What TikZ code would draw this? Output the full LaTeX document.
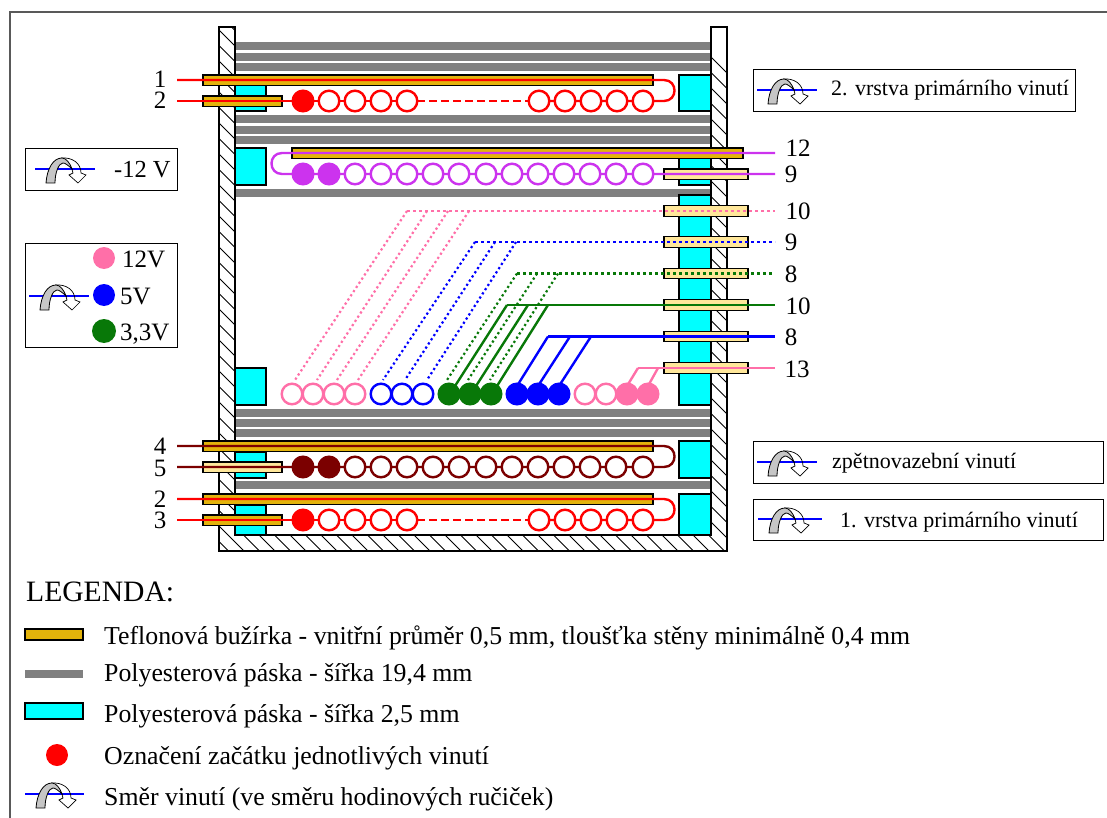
\documentclass[tikz,border=0pt]{standalone}
\usepackage{fontspec}
\setmainfont{Liberation Serif}
\definecolor{zlata}{HTML}{E3B30B}
\definecolor{svetla}{HTML}{FFE79A}
\definecolor{ruzova}{HTML}{FF6FA8}
\definecolor{fialova}{HTML}{CC33EE}
\definecolor{hneda}{HTML}{7B0000}
\definecolor{zelena}{HTML}{087808}
\definecolor{tyrkys}{HTML}{00FFFF}
\tikzset{
	paska/.style={line width=7.5pt,color=gray},
	blok/.style={draw=black,line width=1.1pt,fill=tyrkys},
	buzirka/.style={draw=black,line width=1.1pt,fill=zlata},
	svbuzirka/.style={draw=black,line width=1.1pt,fill=svetla},
	drat/.style={line width=2.4pt},
	prerus/.style={line width=2.6pt,dash pattern=on 8pt off 4pt},
	tecky/.style={line width=2.6pt,dash pattern=on 3pt off 3pt},
	sikmo/.style={line width=2.2pt,dash pattern=on 2.2pt off 2.8pt},
	ramecek/.style={draw=black,line width=.9pt},
	popis/.style={font=\fontsize{25.8}{28}\selectfont,anchor=base west,inner sep=0pt},
	vpopis/.style={font=\fontsize{22}{24}\selectfont,anchor=base west,inner sep=0pt},
	cislo/.style={font=\fontsize{25}{26}\selectfont,anchor=base,inner sep=0pt}
}
\newcommand{\smer}[3]{
	\begin{scope}[shift={(#1,#2)}]
		\draw[blue,line width=2pt] (0,0)--(#3,0);
		\draw[black,line width=.7pt] (26,-11) .. controls (37,-12) and (46,-6) .. (46,4)--(51,6)--(43,14)--(34,6)--(38,4) .. controls (37,-3) and (33,-7) .. (28,-8);
		\draw[black,line width=.8pt,fill=gray!45] (11,14) .. controls (12,0) and (18,-11) .. (27,-11) .. controls (31,-11) and (35,-6) .. (37,0) .. controls (33,-4) and (30,-6) .. (28,-6) .. controls (24,-6) and (20,3) .. (20,14)--cycle;
	\end{scope}
}
\begin{document}
\begin{tikzpicture}[x=1pt,y=-1pt,line join=miter,line cap=butt]
	\useasboundingbox (0,0) rectangle (1107,818);
	\draw[gray!70!black,line width=1.2pt] (10,818)--(10,12)--(1107,12);
	\foreach \y in {46,57,67,119,130,140,193,413,423,433,485}
	\draw[paska] (235,\y)--(711,\y);
	\begin{scope}
		\clip (219,27)--(235,27)--(235,535)--(711,535)--(711,27)--(727,27)--(727,551)--(219,551)--cycle;
		\foreach \c in {0,...,70}
		\draw[line width=.8pt] (0,-189-465+\c*15.5)--(900,-189-465+\c*15.5+900);
	\end{scope}
	\draw[line width=1.3pt] (219,27)--(235,27)--(235,535)--(711,535)--(711,27)--(727,27)--(727,551)--(219,551)--cycle;
	\draw[blok] (235,84) rectangle (266,111);
	\draw[blok] (235,148) rectangle (266,185);
	\draw[blok] (679,75) rectangle (711,111);
	\draw[blok] (679,148) rectangle (711,185);
	\draw[blok] (679,195) rectangle (711,405);
	\draw[blok] (235,368) rectangle (266,405);
	\draw[blok] (235,452) rectangle (266,478);
	\draw[blok] (235,505) rectangle (266,535);
	\draw[blok] (679,441) rectangle (711,478);
	\draw[blok] (679,494) rectangle (711,535);
	\draw[buzirka] (203,75) rectangle (653,85.5);
	\draw[buzirka] (203,96) rectangle (282,106.5);
	\draw[buzirka] (292,148) rectangle (743,158.5);
	\draw[svbuzirka] (664,169) rectangle (748,179.5);
	\foreach \y in {211,242,273.5,305,336.5,368}
	\draw[svbuzirka] (664,\y-5.25) rectangle (748,\y+5.25);
	\draw[buzirka] (203,441) rectangle (653,451.5);
	\draw[svbuzirka] (203,462) rectangle (282,472.5);
	\draw[buzirka] (203,494) rectangle (653,504.5);
	\draw[buzirka] (203,515) rectangle (282,525.5);
	\foreach \y in {80,499}{
		\draw[red,drat] (177,\y)--(664,\y) .. controls (678,\y) and (678,\y+21) .. (664,\y+21)--(528,\y+21);
		\draw[red,drat] (177,\y+21)--(407,\y+21);
		\draw[red,prerus] (417,\y+21)--(530,\y+21);
		\draw[red,fill=red,drat] (303,\y+21) circle (10.3);
		\foreach \x in {329,355,381,407,539,565,591,617,643}
		\draw[red,fill=white,drat] (\x,\y+21) circle (10.3);
	}
	\draw[fialova,drat] (775,153)--(282,153) .. controls (268,153) and (268,174) .. (282,174)--(775,174);
	\draw[hneda,drat] (177,446)--(664,446) .. controls (678,446) and (678,467) .. (664,467)--(177,467);
	\foreach \x in {303,329}{
		\draw[fialova,fill=fialova,drat] (\x,174) circle (10.3);
		\draw[hneda,fill=hneda,drat] (\x,467) circle (10.3);
	}
	\foreach \x in {355,381,407,433,459,486,512,538,564,590,616,643}{
		\draw[fialova,fill=white,drat] (\x,174) circle (10.3);
		\draw[hneda,fill=white,drat] (\x,467) circle (10.3);
	}
	\draw[ruzova,tecky] (407,211)--(775,211);
	\foreach \a/\b in {407/295,427/317,448/337,469/358}
	\draw[ruzova,sikmo] (\a,211)--(\b,380);
	\draw[blue,tecky] (475,242)--(775,242);
	\foreach \a/\b in {475/383,495/405,516/427}
	\draw[blue,sikmo] (\a,242)--(\b,380);
	\draw[zelena,tecky] (517,273.5)--(772,273.5);
	\foreach \a/\b in {517/447,537/468,558/490}
	\draw[zelena,sikmo] (\a,273.5)--(\b,380);
	\draw[zelena,drat] (507,305)--(775,305);
	\foreach \a/\b in {507/455,528/476,548/497}
	\draw[zelena,drat] (\a,305)--(\b,386);
	\draw[blue,drat] (548,336.5)--(775,336.5);
	\foreach \a/\b in {548/517,570/538,591/559}
	\draw[blue,drat] (\a,336.5)--(\b,386);
	\draw[ruzova,drat] (638,368)--(775,368);
	\foreach \a/\b in {638/627,658/648}
	\draw[ruzova,drat] (\a,368)--(\b,386);
	\foreach \x in {292,313,334,355,585,606}
	\draw[ruzova,fill=white,drat] (\x,394) circle (10.3);
	\foreach \x in {627,648}
	\draw[ruzova,fill=ruzova,drat] (\x,394) circle (10.3);
	\foreach \x in {381,402,423}
	\draw[blue,fill=white,drat] (\x,394) circle (10.3);
	\foreach \x in {517,538,559}
	\draw[blue,fill=blue,drat] (\x,394) circle (10.3);
	\foreach \x in {449,470,491}
	\draw[zelena,fill=zelena,drat] (\x,394) circle (10.3);
	\node[cislo] (cA) at (160,88) {1};
	\node[cislo] (cB) at (160,109) {2};
	\node[cislo] (cC) at (160,454) {4};
	\node[cislo] (cD) at (160,476) {5};
	\node[cislo] (cE) at (160,507) {2};
	\node[cislo] (cF) at (160,528) {3};
	\node[cislo] (cG) at (798,157) {12};
	\node[cislo] (cH) at (791,183) {9};
	\node[cislo] (cI) at (798,220) {10};
	\node[cislo] (cJ) at (791,251) {9};
	\node[cislo] (cK) at (791,282) {8};
	\node[cislo] (cL) at (798,314) {10};
	\node[cislo] (cM) at (791,345) {8};
	\node[cislo] (cN) at (797,377) {13};
	\draw[ramecek] (753,69) rectangle (1075,111);
	\smer{757}{90}{60}
	\node[vpopis] (tA) at (831,96) {2. vrstva primárního vinutí};
	\draw[ramecek] (25,148) rectangle (177,190);
	\smer{35}{169}{60}
	\node[popis,font=\fontsize{24.5}{26}\selectfont] (tB) at (114,178) {-12 V};
	\draw[ramecek] (25,243) rectangle (177,347);
	\smer{29}{296}{60}
	\fill[ruzova] (104,258) circle (11);
	\fill[blue] (104,295) circle (11);
	\fill[zelena] (104,331) circle (12);
	\node[popis,font=\fontsize{25}{26}\selectfont] (tC) at (122,267) {12V};
	\node[popis,font=\fontsize{25}{26}\selectfont] (tD) at (120,304) {5V};
	\node[popis,font=\fontsize{25}{26}\selectfont] (tE) at (120,340) {3,3V};
	\draw[ramecek] (753,441) rectangle (1103,483);
	\smer{757}{462}{60}
	\node[vpopis] (tF) at (832,468) {zpětnovazební vinutí};
	\draw[ramecek] (753,499) rectangle (1103,540);
	\smer{758}{519}{64}
	\node[vpopis] (tG) at (840,527) {1. vrstva primárního vinutí};
	\node[popis,font=\fontsize{29.6}{32}\selectfont] (tH) at (26,601) {LEGENDA:};
	\draw[buzirka] (25,629) rectangle (83,640);
	\draw[paska] (25,674)--(83,674);
	\draw[blok] (25,703) rectangle (83,719);
	\fill[red] (57,755) circle (11);
	\smer{25}{794}{59}
	\node[popis] (tI) at (104,644) {Teflonová bužírka - vnitřní průměr 0,5 mm, tloušťka stěny minimálně 0,4 mm};
	\node[popis] (tJ) at (104,681) {Polyesterová páska - šířka 19,4 mm};
	\node[popis] (tK) at (104,722) {Polyesterová páska - šířka 2,5 mm};
	\node[popis] (tL) at (104,764) {Označení začátku jednotlivých vinutí};
	\node[popis] (tM) at (104,805) {Směr vinutí (ve směru hodinových ručiček)};
\end{tikzpicture}
\end{document}
